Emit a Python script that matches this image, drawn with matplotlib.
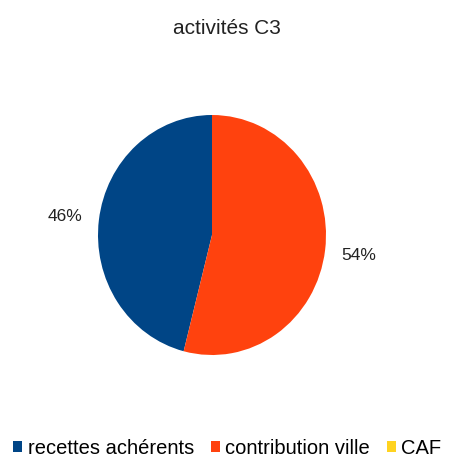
import matplotlib.pyplot as plt

plt.rcParams['font.family'] = ['Liberation Sans', 'DejaVu Sans']

labels = ['recettes achérents', 'contribution ville', 'CAF']
values = [46, 54, 0]
colors = ['#004586', '#ff420e', '#ffd320']
title = 'activités C3'


def main():
    W, H = 450, 464
    fig = plt.figure(figsize=(W / 100, H / 100), dpi=100)

    # pie box in pixels (left, top, right, bottom)
    l, t, r, b = 98, 116, 326, 356
    ax = fig.add_axes([l / W, 1 - b / H, (r - l) / W, (b - t) / H])

    wedges, texts, autotexts = ax.pie(
        values, colors=colors, startangle=90, counterclock=True,
        autopct=lambda p: f'{p:.0f}%' if p > 0 else '',
        pctdistance=1.3, wedgeprops=dict(linewidth=0),
        textprops=dict(fontsize=12.5, color='#222222'))
    ax.set_aspect('auto')
    ax.set_xlim(-1, 1)
    ax.set_ylim(-1, 1)

    fig.text(0.505, 1 - 29 / H, title, ha='center', va='center',
             fontsize=15, color='#222222')

    fig.legend(wedges, labels, loc='center', bbox_to_anchor=(0.505, 1 - 449 / H),
               ncol=3, frameon=False, fontsize=14.5, handlelength=0.45,
               handleheight=0.45, handletextpad=0.25, columnspacing=0.85,
               borderpad=0, borderaxespad=0)

    fig.savefig('out.png', dpi=100, facecolor='white')


if __name__ == "__main__":
    main()
